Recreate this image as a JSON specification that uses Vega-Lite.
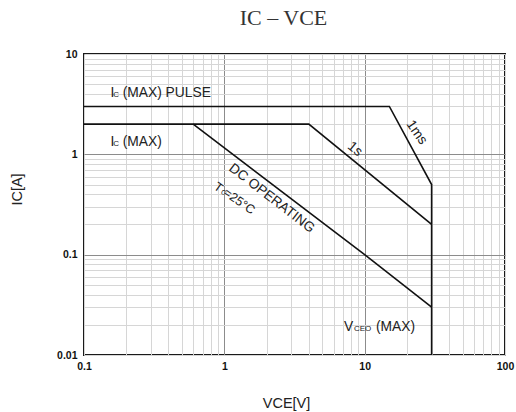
{
  "$schema": "https://vega.github.io/schema/vega-lite/v6.json",
  "width": 421,
  "height": 301,
  "autosize": {"type": "none"},
  "padding": {"left": 84, "top": 54, "right": 11, "bottom": 57},
  "background": "white",
  "title": {
    "text": "IC – VCE",
    "font": "Liberation Serif",
    "fontSize": 22,
    "fontWeight": "normal",
    "color": "#333333",
    "anchor": "middle",
    "frame": "group",
    "dx": -11,
    "offset": 19
  },
  "config": {
    "view": {"stroke": "#1a1a1a", "strokeWidth": 2},
    "text": {"font": "Liberation Sans", "color": "#222222"}
  },
  "encoding": {
    "x": {
      "field": "vce",
      "type": "quantitative",
      "scale": {"type": "log", "domain": [0.1, 100], "nice": false},
      "axis": {
        "values": [0.1, 0.2, 0.3, 0.4, 0.5, 0.6, 0.7, 0.8, 0.9, 1, 2, 3, 4, 5, 6, 7, 8, 9, 10, 20, 30, 40, 50, 60, 70, 80, 90, 100],
        "format": "~g",
        "labelExpr": "(datum.value==0.1||datum.value==1||datum.value==10||datum.value==100)?datum.label:''",
        "grid": true,
        "gridColor": {"condition": {"test": "datum.value==1||datum.value==10", "value": "#8c8c8c"}, "value": "#d6d6d6"},
        "gridWidth": 1,
        "ticks": false,
        "domain": false,
        "labelFont": "Liberation Sans",
        "labelFontWeight": "bold",
        "labelFontSize": 10.5,
        "labelColor": "#111111",
        "labelPadding": 6,
        "labelFlush": false,
        "labelOverlap": false,
        "labelBound": false,
        "title": "VCE[V]",
        "titleFont": "Liberation Sans",
        "titleFontWeight": "normal",
        "titleFontSize": 14.5,
        "titleColor": "#222222",
        "titleX": 202,
        "titleY": 52,
        "titleAlign": "center",
        "titleBaseline": "alphabetic"
      }
    },
    "y": {
      "field": "ic",
      "type": "quantitative",
      "scale": {"type": "log", "domain": [0.01, 10], "nice": false},
      "axis": {
        "values": [0.01, 0.02, 0.03, 0.04, 0.05, 0.06, 0.07, 0.08, 0.09, 0.1, 0.2, 0.3, 0.4, 0.5, 0.6, 0.7, 0.8, 0.9, 1, 2, 3, 4, 5, 6, 7, 8, 9, 10],
        "format": "~g",
        "labelExpr": "(datum.value==0.01||datum.value==0.1||datum.value==1||datum.value==10)?datum.label:''",
        "grid": true,
        "gridColor": {"condition": {"test": "datum.value==0.1||datum.value==1", "value": "#8c8c8c"}, "value": "#d6d6d6"},
        "gridWidth": 1,
        "ticks": false,
        "domain": false,
        "labelFont": "Liberation Sans",
        "labelFontWeight": "bold",
        "labelFontSize": 10.5,
        "labelColor": "#111111",
        "labelPadding": 7,
        "labelFlush": false,
        "labelOverlap": false,
        "labelBound": false,
        "title": "IC[A]",
        "titleFont": "Liberation Sans",
        "titleFontWeight": "normal",
        "titleFontSize": 14.5,
        "titleColor": "#222222",
        "titleX": -66.5,
        "titleY": 135,
        "titleAngle": 270,
        "titleAlign": "center",
        "titleBaseline": "middle"
      }
    }
  },
  "layer": [
    {
      "data": {
        "values": [
          {"curve": "pulse", "step": 1, "vce": 0.1, "ic": 3},
          {"curve": "pulse", "step": 2, "vce": 15, "ic": 3},
          {"curve": "pulse", "step": 3, "vce": 30, "ic": 0.5},
          {"curve": "pulse", "step": 4, "vce": 30, "ic": 0.01},
          {"curve": "max", "step": 1, "vce": 0.1, "ic": 2},
          {"curve": "max", "step": 2, "vce": 4, "ic": 2},
          {"curve": "max", "step": 3, "vce": 30, "ic": 0.2},
          {"curve": "dc", "step": 1, "vce": 0.6, "ic": 2},
          {"curve": "dc", "step": 2, "vce": 10, "ic": 0.1},
          {"curve": "dc", "step": 3, "vce": 30, "ic": 0.03}
        ]
      },
      "mark": {"type": "line", "color": "#111111", "strokeWidth": 1.6, "clip": true},
      "encoding": {
        "detail": {"field": "curve", "type": "nominal"},
        "order": {"field": "step", "type": "quantitative"}
      }
    },
    {
      "data": {
        "values": [
          {"vce": 0.1544, "ic": 3.753, "t": "I"},
          {"vce": 0.1887, "ic": 3.753, "t": "(MAX) PULSE"},
          {"vce": 0.1544, "ic": 1.2247, "t": "I"},
          {"vce": 0.1887, "ic": 1.2247, "t": "(MAX)"},
          {"vce": 7.125, "ic": 0.017466, "t": "V"},
          {"vce": 12.04, "ic": 0.017466, "t": "(MAX)"}
        ]
      },
      "mark": {"type": "text", "align": "left", "baseline": "alphabetic", "fontSize": 13.8},
      "encoding": {"text": {"field": "t", "type": "nominal"}}
    },
    {
      "data": {
        "values": [
          {"vce": 0.1617, "ic": 3.753, "t": "C"},
          {"vce": 0.1617, "ic": 1.2247, "t": "C"},
          {"vce": 8.396, "ic": 0.017466, "t": "CEO"}
        ]
      },
      "mark": {"type": "text", "align": "left", "baseline": "alphabetic", "fontSize": 8},
      "encoding": {"text": {"field": "t", "type": "nominal"}}
    },
    {
      "data": {"values": [{"vce": 2.1757, "ic": 0.3645, "t": "DC OPERATING"}]},
      "mark": {"type": "text", "align": "center", "baseline": "middle", "fontSize": 13.8, "angle": 37.7},
      "encoding": {"text": {"field": "t", "type": "nominal"}}
    },
    {
      "data": {"values": [{"vce": 8.535, "ic": 1.1249, "t": "1s"}]},
      "mark": {"type": "text", "align": "center", "baseline": "middle", "fontSize": 13.8, "angle": 40},
      "encoding": {"text": {"field": "t", "type": "nominal"}}
    },
    {
      "data": {"values": [{"vce": 23.49, "ic": 1.6508, "t": "1ms"}]},
      "mark": {"type": "text", "align": "center", "baseline": "middle", "fontSize": 13.8, "angle": 55},
      "encoding": {"text": {"field": "t", "type": "nominal"}}
    },
    {
      "data": {
        "values": [
          {"vce": 0.9059, "ic": 0.4692, "t": "T"},
          {"vce": 1.2763, "ic": 0.3402, "t": "=25°C"}
        ]
      },
      "mark": {"type": "text", "align": "center", "baseline": "middle", "fontSize": 12.5, "angle": 35},
      "encoding": {"text": {"field": "t", "type": "nominal"}}
    },
    {
      "data": {"values": [{"vce": 0.9865, "ic": 0.4145, "t": "C"}]},
      "mark": {"type": "text", "align": "center", "baseline": "middle", "fontSize": 7, "angle": 35},
      "encoding": {"text": {"field": "t", "type": "nominal"}}
    }
  ]
}
